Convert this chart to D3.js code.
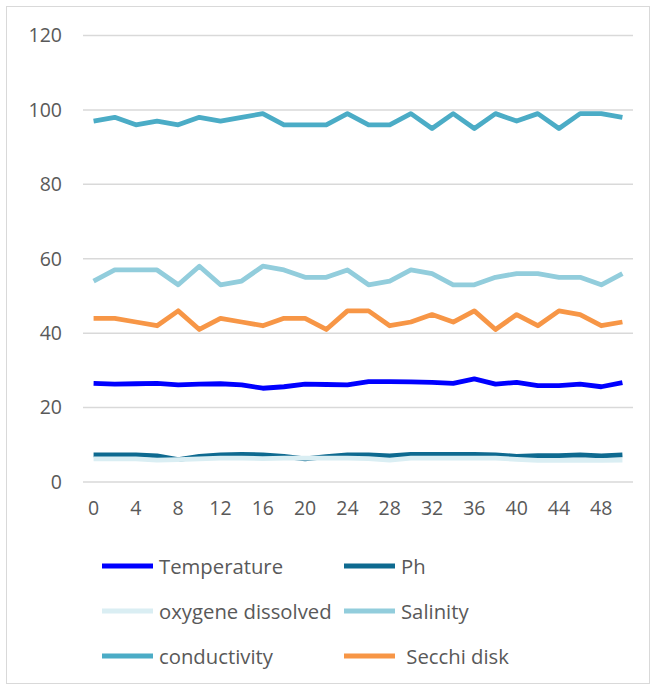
<!DOCTYPE html>
<html><head><meta charset="utf-8">
<script src="https://cdn.jsdelivr.net/npm/d3@7"></script>
<style>body{margin:0;background:#fff}text{font-family:"Open Sans",sans-serif;fill:#595959}</style>
</head><body>
<svg id="c" width="655" height="687"></svg>
<script>
const categories = d3.range(0, 51, 2);
const yTicks = [0, 20, 40, 60, 80, 100, 120];
const seriesNames = ["Temperature", "Ph", "oxygene dissolved", "Salinity", "conductivity", " Secchi disk"];
const seriesColors = ["#0000FF", "#0E6A90", "#DAEEF3", "#92CDDC", "#4BACC6", "#F79646"];
const temperature = [26.5,26.3,26.4,26.5,26.1,26.3,26.4,26.1,25.2,25.6,26.3,26.2,26.1,27.0,27.0,26.9,26.8,26.5,27.7,26.3,26.8,25.9,25.9,26.3,25.6,26.7];
const ph = [7.3,7.3,7.3,7.0,6.0,6.9,7.3,7.4,7.3,6.9,6.2,6.8,7.3,7.3,7.0,7.4,7.4,7.4,7.4,7.3,6.9,7.1,7.1,7.3,7.0,7.3];
const oxygen = [6.2,6.2,6.2,5.9,6.0,6.2,6.4,6.4,6.3,6.4,6.4,6.4,6.4,6.3,5.9,6.4,6.4,6.4,6.4,6.4,6.1,5.8,5.8,5.8,5.8,5.9];
const salinity = [54,57,57,57,53,58,53,54,58,57,55,55,57,53,54,57,56,53,53,55,56,56,55,55,53,56];
const conductivity = [97,98,96,97,96,98,97,98,99,96,96,96,99,96,96,99,95,99,95,99,97,99,95,99,99,98];
const secchi = [44,44,43,42,46,41,44,43,42,44,44,41,46,46,42,43,45,43,46,41,45,42,46,45,42,43];
const seriesValues = [temperature, ph, oxygen, salinity, conductivity, secchi];

const svg = d3.select("#c");
svg.append("rect").attr("x",6.5).attr("y",6.5).attr("width",643).attr("height",677)
  .attr("fill","#fff").attr("stroke","#d9d9d9").attr("stroke-width",1);

const x = d3.scaleBand().domain(categories).range([83, 633]);
const y = d3.scaleLinear().domain([0, 120]).range([482, 35.5]);

svg.append("g").selectAll("line").data(yTicks).join("line")
  .attr("x1",83).attr("x2",633).attr("y1",d=>y(d)).attr("y2",d=>y(d))
  .attr("stroke","#d9d9d9").attr("stroke-width",1.5);

const yAxis = svg.append("g").attr("transform","translate(83,0)")
  .call(d3.axisLeft(y).tickValues(yTicks).tickSize(0).tickPadding(21));
yAxis.select(".domain").remove();
yAxis.selectAll("text").attr("font-size",19.5).attr("fill","#595959").style("font-family","Open Sans");

const xAxis = svg.append("g").attr("transform","translate(0,482)")
  .call(d3.axisBottom(x).tickValues(categories.filter((d,i)=>i%2===0)).tickSize(0).tickPadding(19));
xAxis.select(".domain").remove();
xAxis.selectAll("text").attr("font-size",19.5).attr("fill","#595959").style("font-family","Open Sans");

const line = d3.line().x((d,i)=>x(categories[i]) + x.bandwidth()/2).y(d=>y(d));
seriesValues.forEach((vals, k) => {
  svg.append("path").datum(vals).attr("d", line).attr("fill","none")
    .attr("stroke", seriesColors[k]).attr("stroke-width", 4.8)
    .attr("stroke-linejoin","round").attr("stroke-linecap","butt");
});

const legendX = [102, 344], legendY = [566, 611, 656];
seriesNames.forEach((name, k) => {
  const lx = legendX[k % 2], ly = legendY[Math.floor(k / 2)];
  svg.append("line").attr("x1", lx).attr("x2", lx + 51).attr("y1", ly).attr("y2", ly)
    .attr("stroke", seriesColors[k]).attr("stroke-width", 4.8);
  svg.append("text").attr("x", lx + 57).attr("y", ly + 7.5).attr("font-size", 20.3)
    .attr("xml:space","preserve").style("white-space","pre").text(name);
});
</script>
</body></html>
